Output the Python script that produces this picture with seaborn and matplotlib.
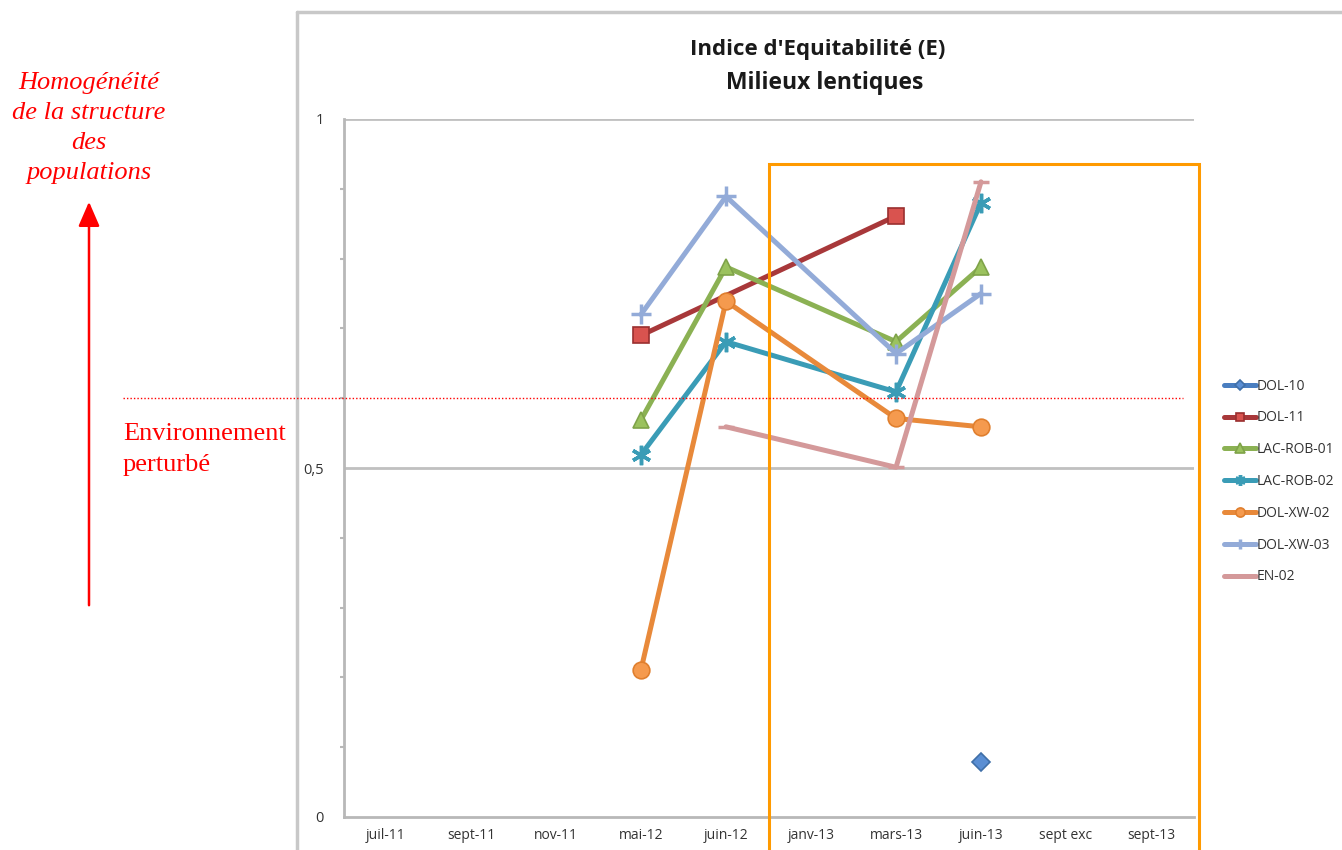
import numpy as np
import pandas as pd
import matplotlib
matplotlib.use("Agg")
import matplotlib.pyplot as plt
import matplotlib.transforms as mtransforms
from matplotlib.lines import Line2D
from matplotlib.patches import Rectangle, FancyArrowPatch
import seaborn as sns

# ---- data -------------------------------------------------------------
dates = ["juil-11", "sept-11", "nov-11", "mai-12", "juin-12",
         "janv-13", "mars-13", "juin-13", "sept exc", "sept-13"]

dol_10     = [None, None, None, None,  None,  None, None,  0.079, None, None]
dol_11     = [None, None, None, 0.690, None,  None, 0.861, None,  None, None]
lac_rob_01 = [None, None, None, 0.569, 0.788, None, 0.681, 0.788, None, None]
lac_rob_02 = [None, None, None, 0.519, 0.681, None, 0.609, 0.880, None, None]
dol_xw_02  = [None, None, None, 0.211, 0.739, None, 0.571, 0.559, None, None]
dol_xw_03  = [None, None, None, 0.720, 0.889, None, 0.664, 0.750, None, None]
en_02      = [None, None, None, None,  0.559, None, 0.501, 0.910, None, None]

series_names = ["DOL-10", "DOL-11", "LAC-ROB-01", "LAC-ROB-02",
                "DOL-XW-02", "DOL-XW-03", "EN-02"]
series_values = [dol_10, dol_11, lac_rob_01, lac_rob_02,
                 dol_xw_02, dol_xw_03, en_02]

y_major = [0, 0.5, 1]
y_major_labels = ["0", "0,5", "1"]
threshold = 0.6

# ---- styles -----------------------------------------------------------
styles = {
    "DOL-10":     dict(color="#4A7EC0", marker="D", ms=9,  mfc="#5A8ED3", mec="#3F6FA8"),
    "DOL-11":     dict(color="#A8383A", marker="s", ms=11, mfc="#D9534F", mec="#9A2F2F"),
    "LAC-ROB-01": dict(color="#8BB153", marker="^", ms=12, mfc="#9BC25E", mec="#7FA349"),
    "LAC-ROB-02": dict(color="#3A9CB6", marker=(6, 2, 0), ms=14, mfc="#3A9CB6", mec="#3A9CB6"),
    "DOL-XW-02":  dict(color="#E8893A", marker="o", ms=12, mfc="#F59A4E", mec="#E07F2E"),
    "DOL-XW-03":  dict(color="#93ABD8", marker="+", ms=14, mfc="#93ABD8", mec="#93ABD8"),
    "EN-02":      dict(color="#D4999A", marker="_", ms=12, mfc="#D4999A", mec="#D4999A"),
}

sns.set_theme(style="white")
plt.rcParams["font.family"] = ["Open Sans", "DejaVu Sans"]

W, H = 1342, 850
fig = plt.figure(figsize=(W / 100, H / 100), dpi=100)
ax = fig.add_axes([343.5 / W, 1 - 817 / H, (1193.5 - 343.5) / W, (817 - 119) / H])

x_idx = np.arange(len(dates))
for name, vals in zip(series_names, series_values):
    df = pd.DataFrame({"x": x_idx, "y": vals}).dropna()
    st = styles[name]
    sns.lineplot(data=df, x="x", y="y", ax=ax, color=st["color"], lw=3.6,
                 marker=st["marker"], markersize=st["ms"],
                 markerfacecolor=st["mfc"], markeredgecolor=st["mec"],
                 markeredgewidth=1.2 if st["marker"] not in ["+", "_", (6, 2, 0)] else 2.5,
                 label=name, sort=False, zorder=3)

ax.set_xlim(-0.5, len(dates) - 0.5)
ax.set_ylim(0, 1)
ax.set_xticks(x_idx)
ax.set_xticklabels(dates, fontsize=10, color="#333333")
ax.set_yticks(y_major)
ax.set_yticklabels(y_major_labels, fontsize=10.5, color="#333333")
ax.set_yticks(np.arange(0.1, 1.0, 0.1), minor=True)
ax.tick_params(axis="x", length=0, pad=8)
ax.tick_params(axis="y", which="major", length=4, width=1.5, color="#b8b8b8", pad=10)
ax.tick_params(axis="y", which="minor", length=3, width=1.5, color="#b8b8b8", left=True)
ax.set_xlabel("")
ax.set_ylabel("")

for side in ["top", "right"]:
    ax.spines[side].set_visible(False)
for side in ["left", "bottom"]:
    ax.spines[side].set_color("#b8b8b8")
    ax.spines[side].set_linewidth(2)
for yv in [0.5, 1.0]:
    ax.axhline(yv, color="#c0c0c0", lw=2, zorder=1)

# legend
leg = ax.legend(loc="upper left", bbox_to_anchor=(1218 / W, 1 - 373 / H),
                bbox_transform=fig.transFigure, frameon=False, fontsize=10,
                labelspacing=1.21, handlelength=2.3, handletextpad=0.05,
                markerscale=0.55, borderaxespad=0)
for t in leg.get_texts():
    t.set_color("#333333")

# title
fig.text(818 / W, 1 - 50 / H, "Indice d'Equitabilité (E)", ha="center", va="center",
         fontsize=16, fontweight="bold", color="#1a1a1a")
fig.text(825 / W, 1 - 83 / H, "Milieux lentiques", ha="center", va="center",
         fontsize=16.5, fontweight="bold", color="#1a1a1a")

# outer chart frame
fig.add_artist(Line2D([297 / W, 297 / W], [0, 1 - 12 / H], transform=fig.transFigure,
                      color="#c8c8c8", lw=2.5))
fig.add_artist(Line2D([297 / W, 1], [1 - 12 / H, 1 - 12 / H], transform=fig.transFigure,
                      color="#c8c8c8", lw=2.5))

# highlighted period
ax.add_patch(Rectangle((4.5, -0.1), 5.065, 0.1 + 0.9355, fill=False,
                       edgecolor="#FF9A00", lw=2.2, clip_on=False, zorder=4))

# disturbance threshold
blend = mtransforms.blended_transform_factory(fig.transFigure, ax.transData)
fig.add_artist(Line2D([123 / W, 1183 / W], [threshold, threshold], transform=blend,
                      color="#ff0000", lw=1, ls=(0, (1, 1.5))))

serif = ["Liberation Serif", "DejaVu Serif"]
fig.text(123 / W, 1 - 434 / H, "Environnement", fontsize=19, color="#ff0000",
         family=serif, ha="left", va="center")
fig.text(123 / W, 1 - 465 / H, "perturbé", fontsize=19, color="#ff0000",
         family=serif, ha="left", va="center")
fig.text(89 / W, 1 - 128 / H, "Homogénéité\nde la structure\ndes\npopulations",
         fontsize=19, color="#ff0000", family=serif, style="italic",
         ha="center", va="center", linespacing=1.48)

fig.add_artist(FancyArrowPatch((89 / W, 1 - 608 / H), (89 / W, 1 - 199 / H),
                               transform=fig.transFigure,
                               arrowstyle="-|>,head_length=6,head_width=2.6",
                               color="#ff0000", lw=1.8, mutation_scale=2.5))

fig.savefig("out.png", dpi=100)
